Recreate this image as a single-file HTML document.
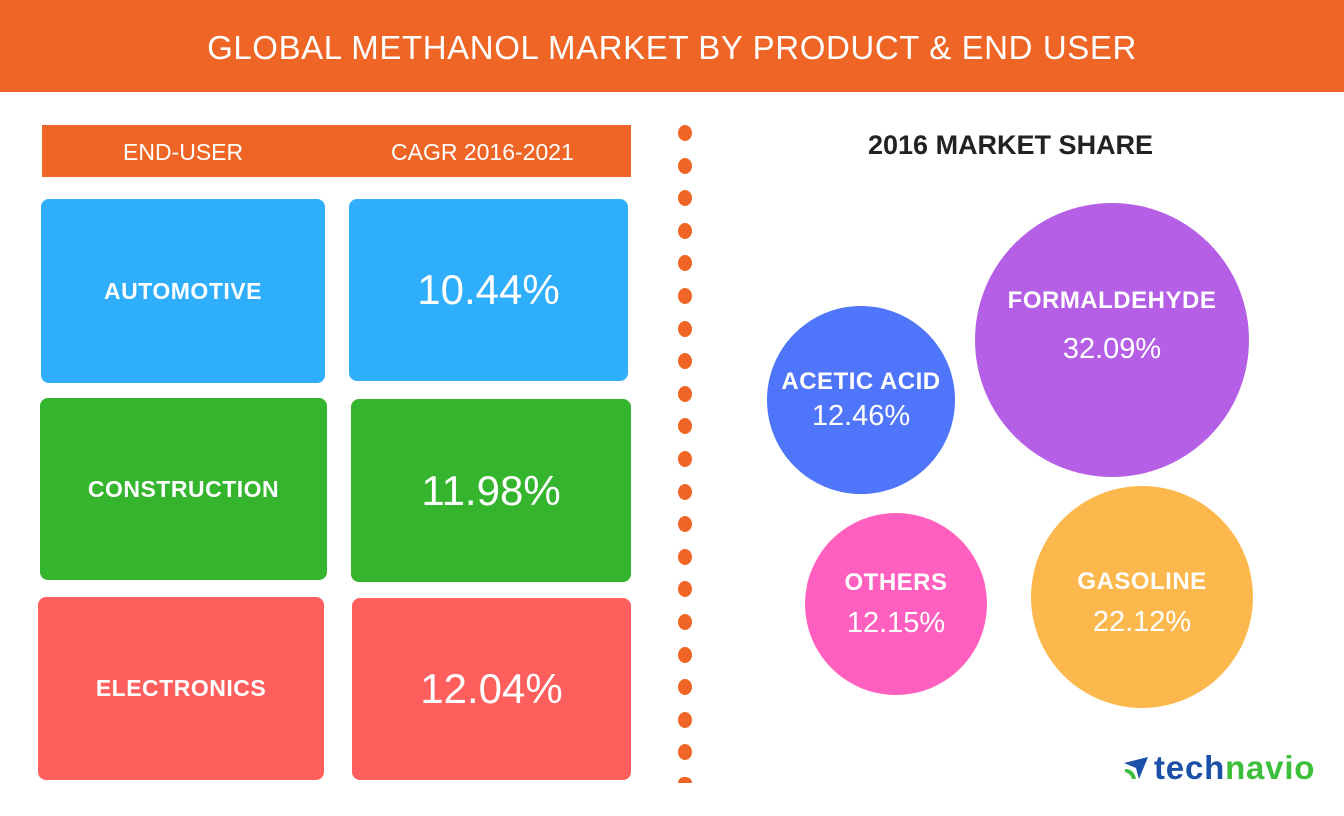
<!DOCTYPE html>
<html><head><style>
body{margin:0;width:1344px;height:816px;background:#fff;position:relative;overflow:hidden;font-family:"Liberation Sans",sans-serif}
.a{position:absolute}
.hdr{left:0;top:0;width:1344px;height:92px;background:#EE6525;color:#fff;font-size:33px;text-align:center;line-height:96px;letter-spacing:0.6px}
.bx{position:absolute;border-radius:8px;color:#fff;display:flex;align-items:center;justify-content:center}
.lab{font-weight:bold;font-size:23px;letter-spacing:0.5px}
.val{font-size:42px}
.dot{position:absolute;left:678px;width:14px;height:16px;border-radius:50%;background:#EE6525}
.c{position:absolute;border-radius:50%;color:#fff;text-align:center;display:flex;flex-direction:column;align-items:center;justify-content:center}
.c b{font-size:24px;letter-spacing:0.5px}
.c span{font-size:29px;margin-top:10px}
</style></head><body>
<div class="a hdr">GLOBAL METHANOL MARKET BY PRODUCT &amp; END USER</div>
<div class="a" style="left:42px;top:125px;width:589px;height:52px;background:#EE6525;color:#fff;font-size:23px;line-height:54px">
<span class="a" style="left:81px">END-USER</span><span class="a" style="left:349px">CAGR 2016-2021</span></div>
<div class="bx lab" style="left:41px;top:199px;width:284px;height:184px;background:#2FAEFC">AUTOMOTIVE</div>
<div class="bx val" style="left:349px;top:199px;width:279px;height:182px;background:#2FAEFC">10.44%</div>
<div class="bx lab" style="left:40px;top:398px;width:287px;height:182px;background:#35B52E">CONSTRUCTION</div>
<div class="bx val" style="left:351px;top:399px;width:280px;height:183px;background:#35B52E">11.98%</div>
<div class="bx lab" style="left:38px;top:597px;width:286px;height:183px;background:#FE5F5C">ELECTRONICS</div>
<div class="bx val" style="left:352px;top:598px;width:279px;height:182px;background:#FE5F5C">12.04%</div>
<div id="dots"></div>
<script>
var h='';for(var i=0;i<21;i++){var y=125+i*32.6;if(y<790)h+='<div class="dot" style="top:'+y+'px;'+(y>775?'height:6px;border-radius:7px 7px 0 0':'')+'"></div>';}
document.getElementById('dots').innerHTML=h;
</script>
<div class="a" style="left:868px;top:130px;font-size:27px;font-weight:bold;color:#222">2016 MARKET SHARE</div>
<div class="c" style="left:767px;top:306px;width:188px;height:188px;background:#4F75FA"><b>ACETIC ACID</b><span style="margin-top:4px">12.46%</span></div>
<div class="c" style="left:975px;top:203px;width:274px;height:274px;background:#B45FE6;justify-content:flex-start"><b style="margin-top:84px">FORMALDEHYDE</b><span style="margin-top:18px">32.09%</span></div>
<div class="c" style="left:805px;top:513px;width:182px;height:182px;background:#FF5FBE"><b>OTHERS</b><span>12.15%</span></div>
<div class="c" style="left:1031px;top:486px;width:222px;height:222px;background:#FDB84D;justify-content:flex-start"><b style="margin-top:82px">GASOLINE</b><span>22.12%</span></div>
<svg class="a" style="left:1122px;top:755px" width="28" height="26"><polygon points="2,8 26,2 17,24 14,13" fill="#1B4FA8"/><path d="M3,14 Q12,14 14,24 L10,24 Q8,18 3,17Z" fill="#3DBE3A"/></svg>
<div class="a" style="left:1154px;top:749px;font-size:33px;font-weight:bold;letter-spacing:0.8px"><span style="color:#1B4FA8">tech</span><span style="color:#3DBE3A">navio</span></div>
</body></html>
